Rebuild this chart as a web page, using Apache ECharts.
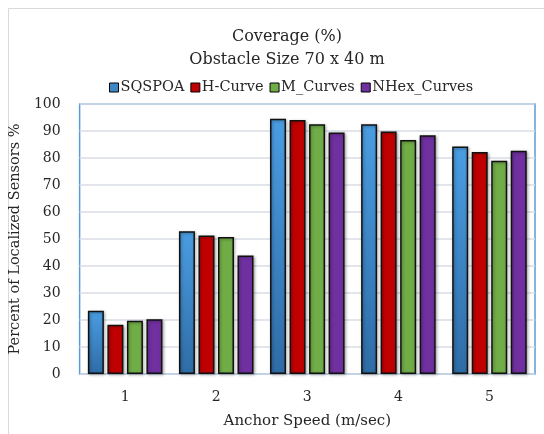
<!DOCTYPE html>
<html><head><meta charset="utf-8">
<script src="https://cdn.jsdelivr.net/npm/echarts@6/dist/echarts.min.js"></script>
<style>html,body{margin:0;padding:0;background:#fff}#c{width:544px;height:434px}</style>
</head><body><div id="c"></div>
<script>
const categories = ['1','2','3','4','5'];
const seriesNames = ['SQSPOA','H-Curve','M_Curves','NHex_Curves'];
const sqspoa = [23.4, 52.9, 94.5, 92.5, 84.3];
const hcurve = [18.2, 51.3, 94.1, 89.8, 82.2];
const mcurves = [19.7, 50.7, 92.5, 86.7, 79.0];
const nhex = [20.3, 43.9, 89.4, 88.4, 82.7];
const yTicks = [0,10,20,30,40,50,60,70,80,90,100];

const font = '"DejaVu Serif", serif';
const colors = [
  {type:'linear',x:0,y:0,x2:0,y2:1,colorStops:[{offset:0,color:'#4a9de2'},{offset:1,color:'#2f6ca6'}]},
  '#c00000','#70ad47','#7030a0'
];
const legendColors = ['#3f87c8','#c00000','#70ad47','#7030a0'];
const data = [sqspoa,hcurve,mcurves,nhex];
const chart = echarts.init(document.getElementById('c'));
chart.setOption({
  animation:false,
  backgroundColor:'#fff',
  graphic:[{type:'rect',shape:{x:8.5,y:8.5,width:540,height:430},style:{fill:'none',stroke:'#d9d9d9',lineWidth:1}}],
  title:{text:'Coverage (%)\nObstacle Size 70 x 40 m',left:282,textAlign:'center',top:20,
    textStyle:{fontFamily:font,fontSize:16,fontWeight:'normal',color:'#262626',lineHeight:23}},
  legend:{top:75,left:104,itemWidth:9,itemHeight:9,itemGap:6,
    textStyle:{fontFamily:font,fontSize:14.5,color:'#262626',padding:[0,0,0,-3]},
    data:seriesNames.map((n,i)=>({name:n,icon:'rect',itemStyle:{color:legendColors[i],borderColor:'#000',borderWidth:1}}))},
  grid:{left:77,right:9,top:104,bottom:59,show:true,borderColor:'#5b9bd5',borderWidth:1.5,backgroundColor:'transparent'},
  xAxis:{type:'category',data:categories,
    axisLine:{show:false},axisTick:{show:false},
    axisLabel:{fontFamily:font,fontSize:14,color:'#262626',margin:16},
    name:'Anchor Speed (m/sec)',nameLocation:'middle',nameGap:40,
    nameTextStyle:{fontFamily:font,fontSize:15,color:'#262626'}},
  yAxis:{type:'value',min:yTicks[0],max:yTicks[yTicks.length-1],interval:10,
    axisLine:{show:false},axisTick:{show:false},
    axisLabel:{fontFamily:font,fontSize:14,color:'#262626',margin:19},
    splitLine:{lineStyle:{color:'#d9dde6',width:1.5}},
    name:'Percent of Localized Sensors %',nameLocation:'middle',nameGap:48,
    nameTextStyle:{fontFamily:font,fontSize:14.5,color:'#262626'}},
  series:seriesNames.map((n,i)=>({
    name:n,type:'bar',data:data[i],barWidth:16,barGap:'22%',
    itemStyle:{color:colors[i],borderColor:'#111',borderWidth:1.5,
      shadowColor:'rgba(0,0,0,0.35)',shadowBlur:3,shadowOffsetX:1,shadowOffsetY:1}
  }))
});
</script></body></html>
